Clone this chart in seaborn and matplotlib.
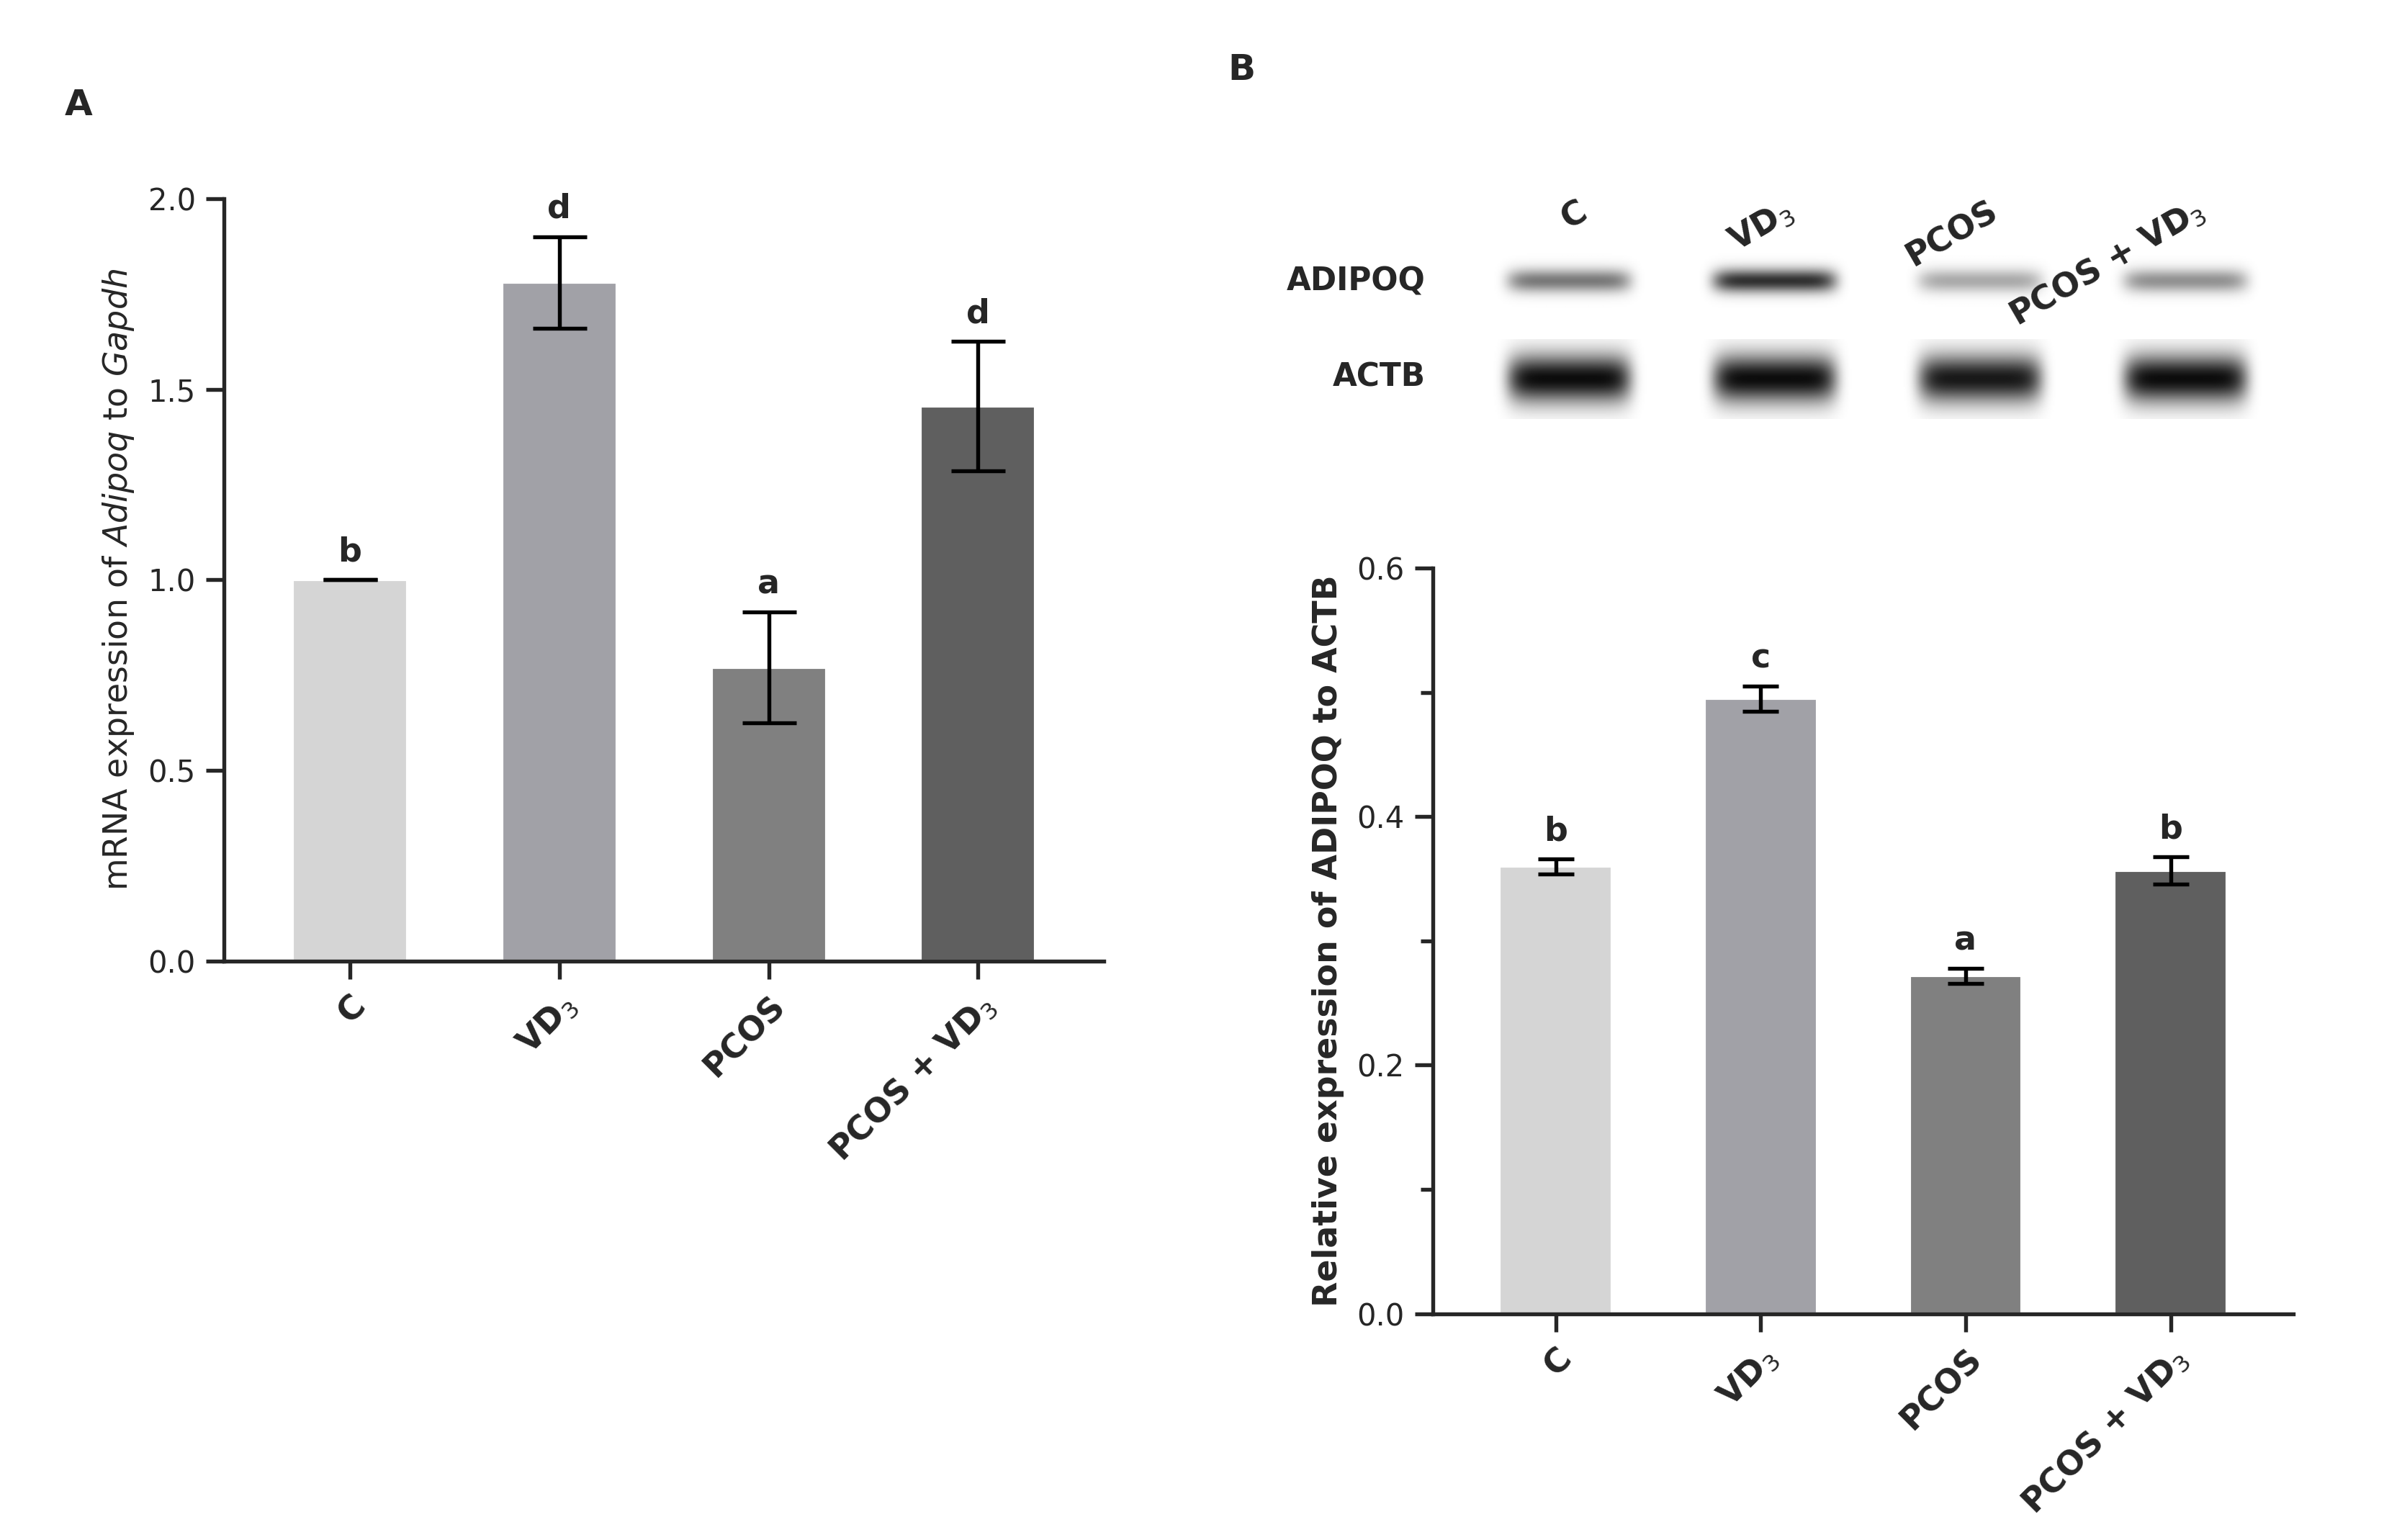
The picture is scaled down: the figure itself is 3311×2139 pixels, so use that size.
import numpy as np
import matplotlib
matplotlib.use("Agg")
import matplotlib.pyplot as plt
import seaborn as sns
import pandas as pd

groups = ["C", "VD$_3$", "PCOS", "PCOS + VD$_3$"]
colors = ["#d5d5d5", "#a1a1a7", "#808080", "#5f5f5f"]
mrna_mean = [1.0, 1.78, 0.77, 1.455]
mrna_err = [0.0, 0.12, 0.145, 0.17]
mrna_letters = ["b", "d", "a", "d"]
prot_mean = [0.360, 0.495, 0.272, 0.357]
prot_err = [0.006, 0.010, 0.006, 0.011]
prot_letters = ["b", "c", "a", "b"]
band_adipoq = [0.55, 0.85, 0.35, 0.45]
band_actb = [1.0, 1.0, 0.95, 1.0]

sns.set_style("ticks")
plt.rcParams['font.family'] = ['DejaVu Sans']
fig = plt.figure(figsize=(11.037, 7.13), dpi=300)

def panel(ax, means, errs, letters, ylim, yticks, minor, ylabel):
    df = pd.DataFrame({"g": groups, "v": means})
    sns.barplot(data=df, x="g", y="v", hue="g", palette=colors, ax=ax, width=0.55,
                legend=False, saturation=1)
    x = np.arange(len(groups))
    ax.errorbar(x, means, yerr=errs, fmt="none", ecolor="black", elinewidth=1.3,
                capsize=9 if ylim > 1 else 6, capthick=1.3)
    off = ylim * 0.015
    for i, (m, e, l) in enumerate(zip(means, errs, letters)):
        ax.text(i, m + e + off, l, ha="center", va="bottom", fontsize=11, fontweight="bold")
    ax.set_ylim(0, ylim)
    ax.set_yticks(yticks)
    ax.set_yticks(minor, minor=True)
    ax.set_xlabel("")
    ax.set_ylabel(ylabel, fontsize=11)
    ax.set_xticks(x)
    ax.set_xticklabels(groups, rotation=45, ha="right", rotation_mode="anchor",
                       fontsize=11, fontweight="bold")
    ax.tick_params(axis="y", labelsize=10, width=1.3, length=6)
    ax.tick_params(axis="y", which="minor", width=1.3, length=4)
    ax.tick_params(axis="x", width=1.3, length=6)
    for s in ["left", "bottom"]:
        ax.spines[s].set_linewidth(1.3)
    sns.despine(ax=ax)

axA = fig.add_axes([0.094, 0.376, 0.369, 0.495])
panel(axA, mrna_mean, mrna_err, mrna_letters, 2.0, [0, 0.5, 1.0, 1.5, 2.0], [],
      "mRNA expression of $\\it{Adipoq}$ to $\\it{Gapdh}$")
axA.set_yticklabels(["0.0", "0.5", "1.0", "1.5", "2.0"])
axA.set_xlim(-0.6, 3.6)

axB = fig.add_axes([0.601, 0.147, 0.361, 0.484])
panel(axB, prot_mean, prot_err, prot_letters, 0.6, [0, 0.2, 0.4, 0.6], [0.1, 0.3, 0.5],
      "Relative expression of ADIPOQ to ACTB")
axB.set_yticklabels(["0.0", "0.2", "0.4", "0.6"])
axB.set_xlim(-0.6, 3.6)
axB.yaxis.label.set_fontweight("bold")

fig.text(0.027, 0.925, "A", fontsize=12, fontweight="bold")
fig.text(0.515, 0.948, "B", fontsize=12, fontweight="bold")

# Western blot
def blot(rect, strengths, height):
    ax = fig.add_axes(rect)
    nx, ny = 600, 60
    xs = np.linspace(0, 4, nx)
    ys = np.linspace(-1, 1, ny)
    X, Y = np.meshgrid(xs, ys)
    img = np.zeros_like(X)
    for i, s in enumerate(strengths):
        cx = i + 0.5
        img += s * np.exp(-((X - cx) / 0.3) ** 8) * np.exp(-(Y / height) ** 2)
    img = np.clip(img, 0, 1)
    ax.imshow(1 - 0.95 * img, cmap="gray", vmin=0, vmax=1, aspect="auto",
              extent=[0, 4, -1, 1])
    ax.set_facecolor("#e6e6e6")
    ax.set_xticks([]); ax.set_yticks([])
    for s in ax.spines.values():
        s.set_visible(False)
    return ax

blot([0.615, 0.792, 0.345, 0.051], band_adipoq, 0.3)
blot([0.615, 0.728, 0.345, 0.052], band_actb, 0.6)
fig.text(0.598, 0.817, "ADIPOQ", fontsize=10.5, fontweight="bold", ha="right", va="center")
fig.text(0.598, 0.755, "ACTB", fontsize=10.5, fontweight="bold", ha="right", va="center")
for i, g in enumerate(groups):
    fig.text(0.615 + 0.345 * (i + 0.5) / 4 + 0.01, 0.855, g, rotation=30, fontsize=11,
             fontweight="bold", ha="right", va="bottom", rotation_mode="anchor")

fig.savefig("out.png", dpi=300, facecolor="white")
